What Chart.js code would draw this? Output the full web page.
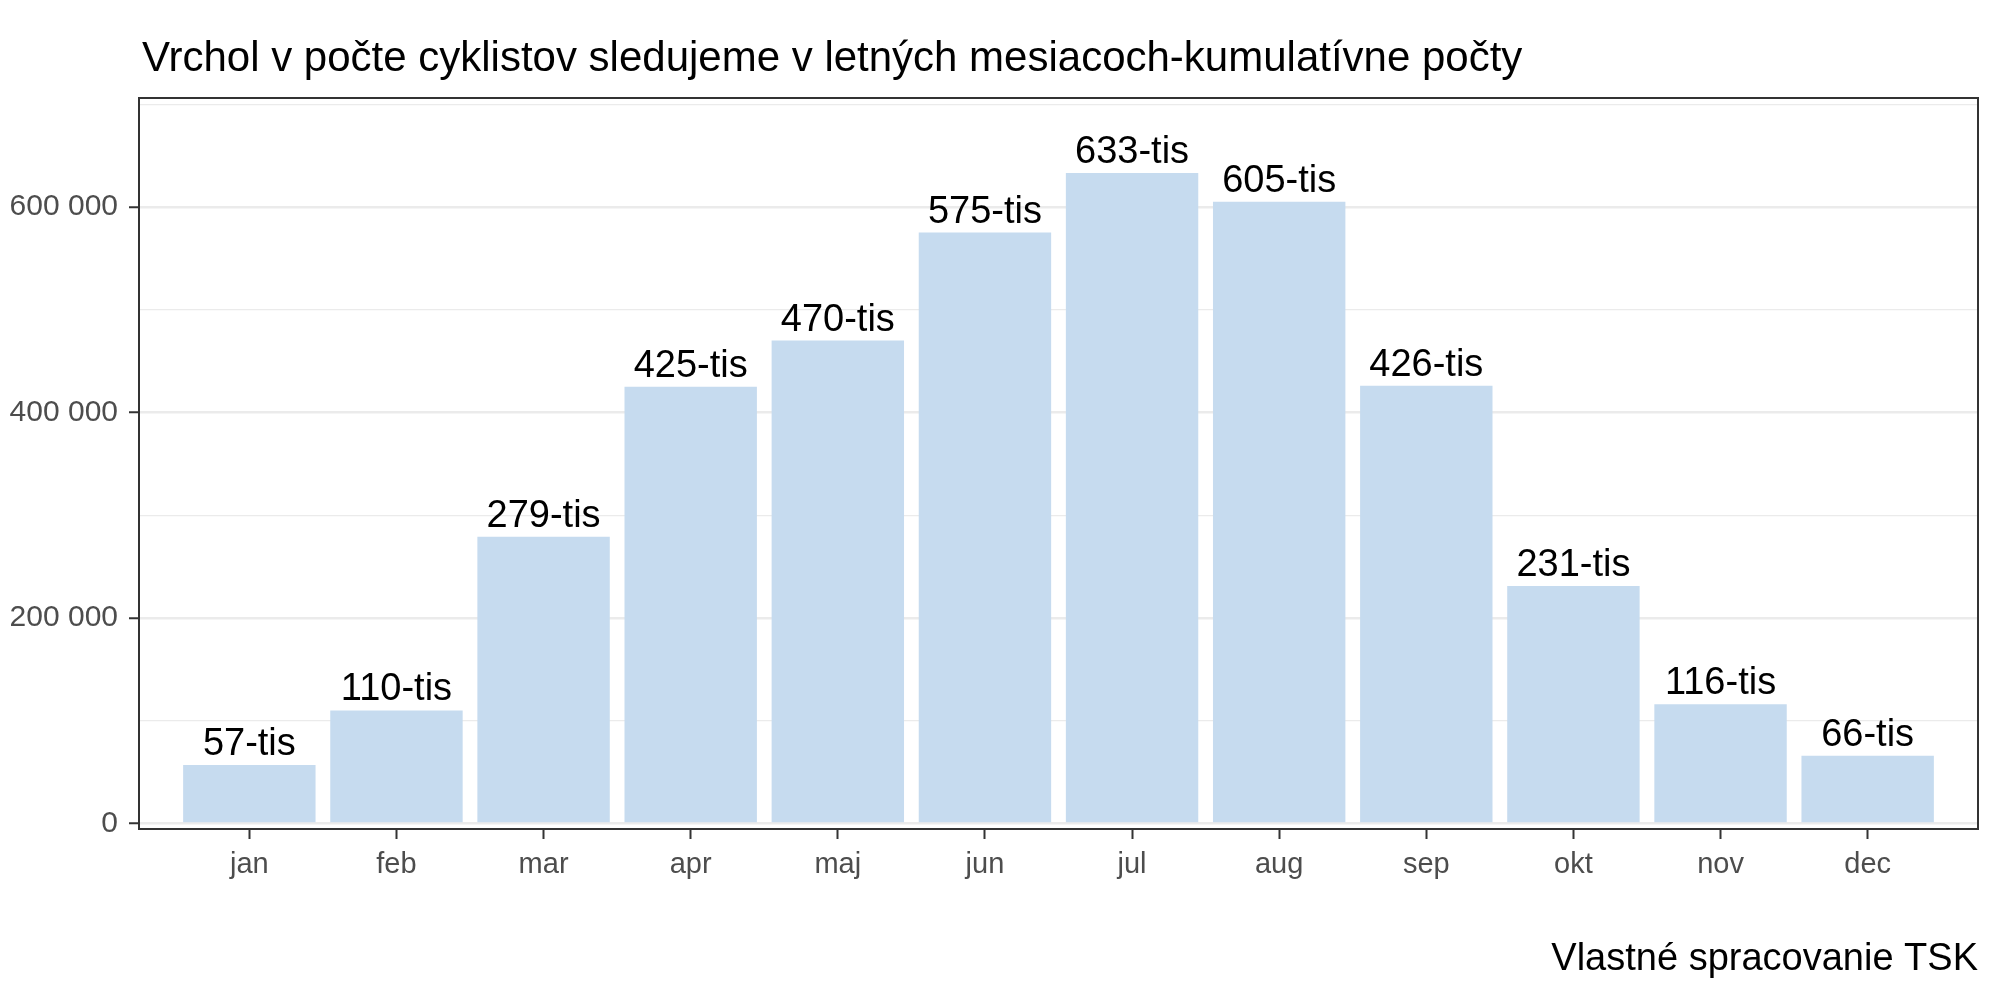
<!DOCTYPE html>
<html>
<head>
<meta charset="utf-8">
<script src="https://cdn.jsdelivr.net/npm/chart.js@4"></script>
<style>body{margin:0;background:#fff}</style>
</head>
<body>
<canvas id="graf" width="2000" height="1000"></canvas>
<script>
const mesiace = ['jan', 'feb', 'mar', 'apr', 'maj', 'jun', 'jul', 'aug', 'sep', 'okt', 'nov', 'dec'];
const pocty = [57000, 110000, 279000, 425000, 470000, 575000, 633000, 605000, 426000, 231000, 116000, 66000];
const yTicks = [0, 100000, 200000, 300000, 400000, 500000, 600000, 700000];
const yPopisky = [0, 200000, 400000, 600000];
const nadpis = 'Vrchol v počte cyklistov sledujeme v letných mesiacoch-kumulatívne počty';
const zdroj = 'Vlastné spracovanie TSK';

const pismo = '"Liberation Sans", Arial, sans-serif';

function formatCislo(v) {
  return String(v).replace(/\B(?=(\d{3})+(?!\d))/g, ' ');
}

// popisky nad stlpcami
const popiskyPlugin = {
  id: 'popisky',
  afterDatasetsDraw(chart) {
    const ctx = chart.ctx;
    const meta = chart.getDatasetMeta(0);
    ctx.save();
    ctx.font = '38px ' + pismo;
    ctx.fillStyle = '#000';
    ctx.textAlign = 'center';
    ctx.textBaseline = 'alphabetic';
    meta.data.forEach((bar, i) => {
      ctx.fillText(Math.round(pocty[i] / 1000) + '-tis', bar.x, bar.y - 10);
    });
    ctx.restore();
  }
};

// ramik panelu, nadpis a zdroj
const ramikPlugin = {
  id: 'ramik',
  afterDraw(chart) {
    const ctx = chart.ctx;
    const a = chart.chartArea;
    ctx.save();
    ctx.strokeStyle = '#333333';
    ctx.lineWidth = 2;
    ctx.strokeRect(a.left, a.top, a.right - a.left, a.bottom - a.top);

    ctx.fillStyle = '#000';
    ctx.font = '42px ' + pismo;
    ctx.textAlign = 'left';
    ctx.textBaseline = 'alphabetic';
    ctx.fillText(nadpis, a.left + 3, 71);

    ctx.font = '38px ' + pismo;
    ctx.textAlign = 'right';
    ctx.fillText(zdroj, a.right, 970);
    ctx.restore();
  }
};

new Chart(document.getElementById('graf'), {
  type: 'bar',
  data: {
    datasets: [{
      data: pocty.map((v, i) => ({ x: i, y: v })),
      backgroundColor: '#C6DBEF',
      borderWidth: 0,
      barPercentage: 0.9,
      categoryPercentage: 1.0
    }]
  },
  options: {
    responsive: false,
    devicePixelRatio: 1,
    animation: false,
    layout: { padding: { top: 98, right: 22, left: 0, bottom: 0 } },
    plugins: {
      legend: { display: false },
      tooltip: { enabled: false }
    },
    scales: {
      x: {
        type: 'linear',
        offset: false,
        min: -0.75,
        max: 11.75,
        afterBuildTicks: s => { s.ticks = mesiace.map((m, i) => ({ value: i })); },
        afterFit: s => { s.height = 171; },
        border: { display: false },
        grid: {
          offset: false,
          drawOnChartArea: false,
          tickLength: 10,
          tickColor: '#333333',
          tickWidth: 2
        },
        ticks: {
          autoSkip: false,
          maxRotation: 0,
          padding: 9,
          color: '#4D4D4D',
          font: { family: pismo, size: 29 },
          callback: v => mesiace[v] ?? ''
        }
      },
      y: {
        min: -5400,
        max: 706000,
        afterBuildTicks: s => { s.ticks = yTicks.map(v => ({ value: v })); },
        afterFit: s => { s.width = 139; },
        border: { display: false },
        grid: {
          color: '#EBEBEB',
          lineWidth: c => yPopisky.includes(c.tick.value) ? 2.5 : 1.2,
          tickLength: 10,
          tickColor: c => yPopisky.includes(c.tick.value) ? '#333333' : 'rgba(0,0,0,0)',
          tickWidth: 2
        },
        ticks: {
          autoSkip: false,
          padding: 11,
          color: '#4D4D4D',
          font: { family: pismo, size: 30 },
          callback: v => yPopisky.includes(v) ? formatCislo(v) : ''
        }
      }
    }
  },
  plugins: [popiskyPlugin, ramikPlugin]
});
</script>
</body>
</html>
